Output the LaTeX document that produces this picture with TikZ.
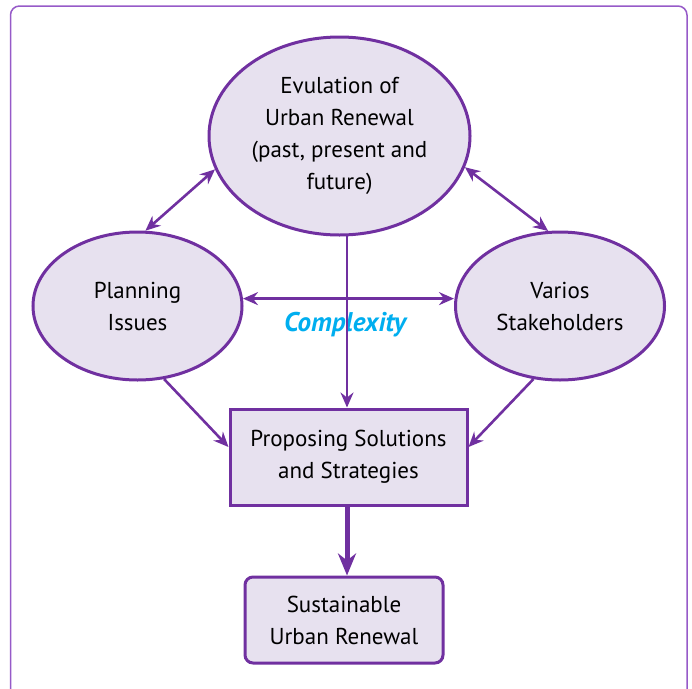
\documentclass[tikz,border=0pt]{standalone}
\usepackage{fontspec}
\setmainfont{PT Sans}
\usetikzlibrary{shapes.geometric,arrows.meta}
\definecolor{pstroke}{RGB}{112,48,160}
\definecolor{pfill}{RGB}{231,225,239}
\definecolor{pframe}{RGB}{150,90,200}
\definecolor{cplx}{RGB}{0,174,239}
\tikzset{
  txt/.style={font=\fontsize{23}{32}\selectfont, align=center, text=black},
  ell/.style={ellipse, draw=pstroke, fill=pfill, line width=3pt, inner sep=0pt, txt},
  boxnode/.style={rectangle, draw=pstroke, fill=pfill, line width=3pt, inner sep=0pt, txt},
  tip/.style={Stealth[length=15pt,width=13pt,inset=5pt]},
  conn/.style={draw=pstroke, line width=2.6pt, -{Stealth[length=15pt,width=13pt,inset=5pt]}},
  biconn/.style={draw=pstroke, line width=2.6pt, {Stealth[length=15pt,width=13pt,inset=5pt]}-{Stealth[length=15pt,width=13pt,inset=5pt]}},
  thickconn/.style={draw=pstroke, line width=5pt, -{Stealth[length=22pt,width=18pt,inset=7pt]}}
}
\begin{document}
\begin{tikzpicture}[x=1pt,y=-1pt]
\useasboundingbox (0,0) rectangle (692,688);
\draw[pframe, line width=1.5pt, rounded corners=9pt] (10.5,720) -- (10.5,6) -- (687,6) -- (687,720);
\node[ell, minimum width=261pt, minimum height=198pt] (top) at (339.5,136) {Evulation of\\Urban Renewal\\(past, present and\\future)};
\node[ell, minimum width=209pt, minimum height=148pt] (left) at (137.5,306) {Planning\\Issues};
\node[ell, minimum width=209pt, minimum height=148pt] (right) at (560,306) {Varios\\Stakeholders};
\node[boxnode, minimum width=237pt, minimum height=96pt] (box) at (348.5,457) {Proposing Solutions\\and Strategies};
\node[boxnode, rounded corners=8pt, minimum width=198pt, minimum height=86pt] (sust) at (344,620) {Sustainable\\Urban Renewal};
\node[font=\fontsize{27}{30}\selectfont\bfseries\itshape, text=cplx] (cx) at (345,325) {Complexity};
\draw[biconn] (top.195) -- (left.84);
\draw[biconn] (top.346) -- (right.99);
\draw[biconn] (left.4.4) -- (left.4.4 -| right.west);
\coordinate (vt) at (347,235);
\draw[conn] (vt) -- (vt |- box.north);
\draw[conn] (left.290) -- ([yshift=10pt]box.west);
\draw[conn] (right.250) -- ([yshift=10pt]box.east);
\draw[thickconn] (box.south -| vt) -- (sust.north -| vt);
\end{tikzpicture}
\end{document}
